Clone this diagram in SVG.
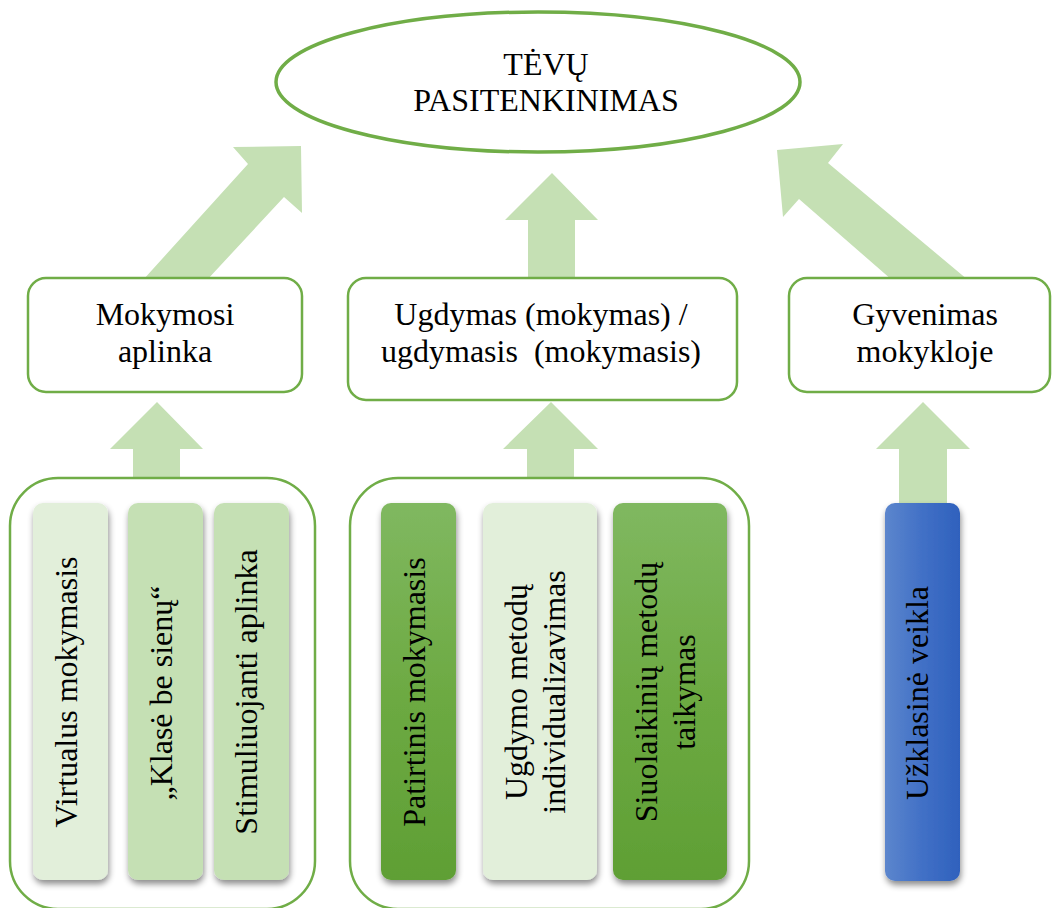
<svg xmlns="http://www.w3.org/2000/svg" width="1052" height="908" viewBox="0 0 1052 908">
  <defs>
    <style>
      .lbl { font-family: "Liberation Serif", "Times New Roman", serif; font-size: 32px; fill: #000; text-anchor: middle; }
      .frame { fill: #fff; stroke: #70AD47; stroke-width: 2.5; }
      .oval { fill: #fff; stroke: #70AD47; stroke-width: 3.5; }
      .arrow { fill: #C5E0B4; stroke: none; }
      .card { filter: url(#shadow); }
    </style>
    <linearGradient id="greenGrad" x1="0" y1="0" x2="0" y2="1">
      <stop offset="0" stop-color="#80B860"/>
      <stop offset="0.5" stop-color="#6DAA43"/>
      <stop offset="1" stop-color="#5F9F34"/>
    </linearGradient>
    <linearGradient id="blueGrad" x1="0" y1="0" x2="1" y2="0">
      <stop offset="0" stop-color="#5C86CD"/>
      <stop offset="0.5" stop-color="#4170C6"/>
      <stop offset="1" stop-color="#2F61BD"/>
    </linearGradient>
    <filter id="shadow" x="-30%" y="-10%" width="160%" height="125%">
      <feDropShadow dx="1" dy="4" stdDeviation="3" flood-color="#000" flood-opacity="0.45"/>
    </filter>
  </defs>

  <!-- block arrows -->
  <g id="connectors">
    <polygon class="arrow" points="143,280 248,164 233,147 301,146 302,213 284,197 207,280"/>
    <polygon class="arrow" points="528,280 528,220 505,220 552,173 598,220 575,220 575,280"/>
    <polygon class="arrow" points="892,280 799,199 783,217 777,150 843,144 828,163 968,280"/>
    <polygon class="arrow" points="133,480 133,449 110,449 157,402 203,449 180,449 180,480"/>
    <polygon class="arrow" points="527,480 527,449 503,449 551,402 598,449 574,449 574,480"/>
    <polygon class="arrow" points="899,505 899,449 876,449 923,402 970,449 947,449 947,505"/>
  </g>

  <g id="goal">
    <ellipse class="oval" cx="538" cy="82" rx="262" ry="70"/>
    <text class="lbl" x="546" y="75">TĖVŲ</text>
    <text class="lbl" x="546" y="111">PASITENKINIMAS</text>
  </g>

  <g id="environment">
    <rect class="frame" x="28" y="278" width="274" height="114" rx="18"/>
    <text class="lbl" x="165" y="325">Mokymosi</text>
    <text class="lbl" x="165" y="362">aplinka</text>
  </g>

  <g id="education">
    <rect class="frame" x="348" y="278" width="389" height="122" rx="18"/>
    <text class="lbl" x="541" y="325">Ugdymas (mokymas) /</text>
    <text class="lbl" x="541" y="362" xml:space="preserve">ugdymasis  (mokymasis)</text>
  </g>

  <g id="school-life">
    <rect class="frame" x="789" y="278" width="261" height="114" rx="18"/>
    <text class="lbl" x="925" y="325">Gyvenimas</text>
    <text class="lbl" x="925" y="362">mokykloje</text>
  </g>

  <g id="environment-group">
    <rect class="frame" x="10" y="478" width="305" height="431" rx="48"/>
  </g>

  <g id="education-group">
    <rect class="frame" x="350" y="478" width="399" height="431" rx="48"/>
  </g>

  <g id="virtual-learning">
    <rect class="card" x="33" y="503" width="75" height="377" rx="10" fill="#E2EFDA"/>
    <text class="lbl" transform="translate(77,692) rotate(-90)">Virtualus mokymasis</text>
  </g>

  <g id="class-without-walls">
    <rect class="card" x="128" y="503" width="75" height="377" rx="10" fill="#C5E0B4"/>
    <text class="lbl" transform="translate(172,693) rotate(-90)">„Klasė be sienų“</text>
  </g>

  <g id="stimulating-environment">
    <rect class="card" x="214" y="503" width="75" height="377" rx="10" fill="#C5E0B4"/>
    <text class="lbl" transform="translate(257,692) rotate(-90)">Stimuliuojanti aplinka</text>
  </g>

  <g id="experiential-learning">
    <rect class="card" x="381" y="503" width="75" height="377" rx="10" fill="url(#greenGrad)"/>
    <text class="lbl" transform="translate(425,692) rotate(-90)">Patirtinis mokymasis</text>
  </g>

  <g id="individualised-methods">
    <rect class="card" x="483" y="503" width="114" height="377" rx="10" fill="#E2EFDA"/>
    <text class="lbl" transform="translate(527,692) rotate(-90)">Ugdymo metodų</text>
    <text class="lbl" transform="translate(565,692) rotate(-90)">individualizavimas</text>
  </g>

  <g id="modern-methods">
    <rect class="card" x="613" y="503" width="114" height="377" rx="10" fill="url(#greenGrad)"/>
    <text class="lbl" transform="translate(657,692) rotate(-90)">Siuolaikinių metodų</text>
    <text class="lbl" transform="translate(695,692) rotate(-90)">taikymas</text>
  </g>

  <g id="extracurricular">
    <rect class="card" x="885" y="503" width="75" height="378" rx="10" fill="url(#blueGrad)"/>
    <text class="lbl" transform="translate(928,693) rotate(-90)">Užklasinė veikla</text>
  </g>
</svg>
